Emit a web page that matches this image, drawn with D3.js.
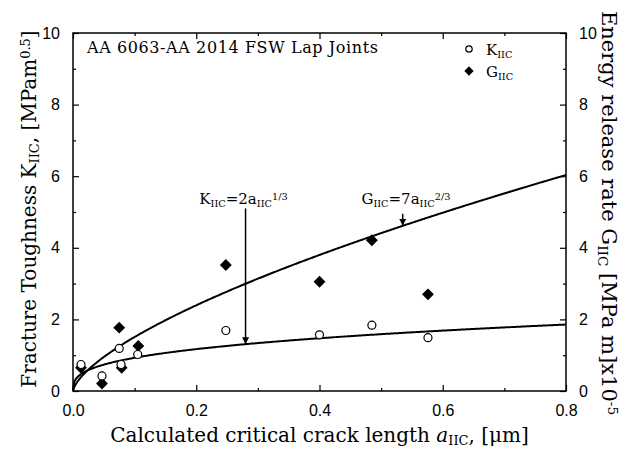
<!DOCTYPE html>
<html>
<head>
<meta charset="utf-8">
<script src="https://cdn.jsdelivr.net/npm/d3@7/dist/d3.min.js"></script>
<style>
body { margin: 0; background: #fff; }
svg text { fill: #000; }
</style>
</head>
<body>
<div id="chart"></div>
<script>
// crack length a_IIC [um]
var kCrack = [0.013, 0.047, 0.075, 0.078, 0.105, 0.248, 0.400, 0.485, 0.576];
var kValues = [0.74, 0.42, 1.19, 0.74, 1.02, 1.69, 1.57, 1.84, 1.49];
var gCrack = [0.013, 0.047, 0.075, 0.079, 0.106, 0.248, 0.400, 0.485, 0.576];
var gValues = [0.65, 0.21, 1.77, 0.65, 1.26, 3.52, 3.05, 4.21, 2.70];
var xTicks = [0, 0.2, 0.4, 0.6, 0.8];
var yTicks = [0, 2, 4, 6, 8, 10];
// fitted curves shown on the chart: K = 2 a^(1/3), G = 7 a^(2/3)
var kFit = {c: 2, p: 1 / 3};
var gFit = {c: 7, p: 2 / 3};

var W = 631, H = 450;
var margin = {top: 33, right: 65, bottom: 59, left: 73};
var width = W - margin.left - margin.right,
    height = H - margin.top - margin.bottom;

var svg = d3.select("#chart").append("svg")
    .attr("width", W).attr("height", H);
var g = svg.append("g")
    .attr("transform", "translate(" + margin.left + "," + margin.top + ")");

var x = d3.scaleLinear().domain([0, 0.8]).range([0, width]);
var y = d3.scaleLinear().domain([0, 10]).range([height, 0]);

var serif = "'DejaVu Serif', serif";
var sans = "'Liberation Sans', Arial, sans-serif";

// axes, ticks pointing inward
function styleAxis(sel) {
    sel.select(".domain").remove();
    sel.selectAll("line").attr("stroke", "#000").attr("stroke-width", 1.2);
    sel.selectAll("text").style("font-family", sans).style("font-size", "16px");
}
var xMinor = d3.range(0.1, 0.8, 0.2);
var yMinor = d3.range(1, 10, 2);

var bottom = g.append("g").attr("transform", "translate(0," + height + ")")
    .call(d3.axisBottom(x).tickValues(xTicks).tickFormat(d3.format(".1f")).tickSizeInner(-6).tickSizeOuter(0).tickPadding(14));
styleAxis(bottom);
g.append("g").attr("transform", "translate(0," + height + ")")
    .call(d3.axisBottom(x).tickValues(xMinor).tickFormat("").tickSize(-3).tickSizeOuter(0))
    .call(styleAxis);
g.append("g").call(d3.axisTop(x).tickValues(xTicks).tickFormat("").tickSize(-6).tickSizeOuter(0)).call(styleAxis);
g.append("g").call(d3.axisTop(x).tickValues(xMinor).tickFormat("").tickSize(-3).tickSizeOuter(0)).call(styleAxis);

var left = g.append("g")
    .call(d3.axisLeft(y).tickValues(yTicks).tickSizeInner(-6).tickSizeOuter(0).tickPadding(13));
styleAxis(left);
g.append("g").call(d3.axisLeft(y).tickValues(yMinor).tickFormat("").tickSize(-3).tickSizeOuter(0)).call(styleAxis);

var right = g.append("g").attr("transform", "translate(" + width + ",0)")
    .call(d3.axisRight(y).tickValues(yTicks).tickSizeInner(-6).tickSizeOuter(0).tickPadding(13));
styleAxis(right);
g.append("g").attr("transform", "translate(" + width + ",0)")
    .call(d3.axisRight(y).tickValues(yMinor).tickFormat("").tickSize(-3).tickSizeOuter(0)).call(styleAxis);

// frame
g.append("rect").attr("width", width).attr("height", height)
    .attr("fill", "none").attr("stroke", "#000").attr("stroke-width", 1.5);

// fitted curves
var aSteps = d3.range(0, 0.8001, 0.002);
var line = d3.line().x(function (d) { return x(d[0]); }).y(function (d) { return y(d[1]); });
[kFit, gFit].forEach(function (f) {
    g.append("path")
        .datum(aSteps.map(function (a) { return [a, f.c * Math.pow(a, f.p)]; }))
        .attr("d", line).attr("fill", "none").attr("stroke", "#000").attr("stroke-width", 2);
});

// markers
var diamond = d3.symbol().type(d3.symbolDiamond2).size(90);
g.selectAll(".gpt").data(gCrack).enter().append("path")
    .attr("d", diamond)
    .attr("transform", function (d, i) { return "translate(" + x(d) + "," + y(gValues[i]) + ")"; })
    .attr("fill", "#000");
g.selectAll(".kpt").data(kCrack).enter().append("circle")
    .attr("cx", function (d) { return x(d); })
    .attr("cy", function (d, i) { return y(kValues[i]); })
    .attr("r", 4).attr("fill", "#fff").attr("stroke", "#000").attr("stroke-width", 1.2);

// helper for text with sub/superscripts
function richText(sel, parts) {
    parts.forEach(function (p) {
        var t = sel.append("tspan").text(p.t);
        if (p.sub) t.attr("baseline-shift", "-25%").style("font-size", "65%");
        if (p.sup) t.attr("baseline-shift", "45%").style("font-size", "65%");
        if (p.it) t.style("font-style", "italic");
    });
    return sel;
}

// arrows
svg.append("defs").append("marker").attr("id", "arr")
    .attr("viewBox", "0 0 10 10").attr("refX", 10).attr("refY", 5)
    .attr("markerWidth", 7).attr("markerHeight", 9).attr("markerUnits", "userSpaceOnUse")
    .attr("orient", "auto")
    .append("path").attr("d", "M0,0L10,5L0,10Z").attr("fill", "#000");

var kArrowA = 0.280, gArrowA = 0.535;
g.append("line")
    .attr("x1", x(kArrowA)).attr("x2", x(kArrowA))
    .attr("y1", y(5.1)).attr("y2", y(kFit.c * Math.pow(kArrowA, kFit.p)))
    .attr("stroke", "#000").attr("stroke-width", 1.5).attr("marker-end", "url(#arr)");
g.append("line")
    .attr("x1", x(gArrowA)).attr("x2", x(gArrowA))
    .attr("y1", y(4.95)).attr("y2", y(gFit.c * Math.pow(gArrowA, gFit.p)))
    .attr("stroke", "#000").attr("stroke-width", 1.5).attr("marker-end", "url(#arr)");

richText(g.append("text").attr("x", x(0.205)).attr("y", y(5.22)).style("font-family", serif).style("font-size", "15px"),
    [{t: "K"}, {t: "IIC", sub: true}, {t: "=2a"}, {t: "IIC", sub: true}, {t: "1/3", sup: true}]);
richText(g.append("text").attr("x", x(0.468)).attr("y", y(5.22)).style("font-family", serif).style("font-size", "15px"),
    [{t: "G"}, {t: "IIC", sub: true}, {t: "=7a"}, {t: "IIC", sub: true}, {t: "2/3", sup: true}]);

// title inside
g.append("text").attr("x", 14).attr("y", 20)
    .style("font-family", serif).style("font-size", "16px").style("letter-spacing", "0.6px")
    .text("AA 6063-AA 2014 FSW Lap Joints");

// legend
var lg = g.append("g").attr("transform", "translate(" + (width - 97) + ",16)");
lg.append("circle").attr("cx", 0).attr("cy", 0).attr("r", 3.2)
    .attr("fill", "#fff").attr("stroke", "#000").attr("stroke-width", 1.2);
lg.append("path").attr("d", d3.symbol().type(d3.symbolDiamond2).size(55))
    .attr("transform", "translate(0,22)").attr("fill", "#000");
richText(lg.append("text").attr("x", 17).attr("y", 6).style("font-family", serif).style("font-size", "15px"),
    [{t: "K"}, {t: "IIC", sub: true}]);
richText(lg.append("text").attr("x", 17).attr("y", 28).style("font-family", serif).style("font-size", "15px"),
    [{t: "G"}, {t: "IIC", sub: true}]);

// axis titles
richText(svg.append("text").attr("text-anchor", "middle")
    .attr("transform", "translate(" + (margin.left + width / 2) + ",442)")
    .style("font-family", serif).style("font-size", "20px"),
    [{t: "Calculated critical crack length "}, {t: "a", it: true}, {t: "IIC", sub: true}, {t: ", [\u03bcm]"}]);

richText(svg.append("text").attr("text-anchor", "middle")
    .attr("transform", "translate(36," + (margin.top + height / 2 - 3) + ") rotate(-90)")
    .style("font-family", serif).style("font-size", "20px"),
    [{t: "Fracture Toughness K"}, {t: "IIC", sub: true}, {t: ", [MPam"}, {t: "0.5", sup: true}, {t: "]"}]);

richText(svg.append("text").attr("text-anchor", "middle")
    .attr("transform", "translate(602,213) rotate(90)")
    .style("font-family", serif).style("font-size", "21px"),
    [{t: "Energy release rate G"}, {t: "IIC", sub: true}, {t: " [MPa m]x10"}, {t: "-5", sup: true}]);
</script>
</body>
</html>
